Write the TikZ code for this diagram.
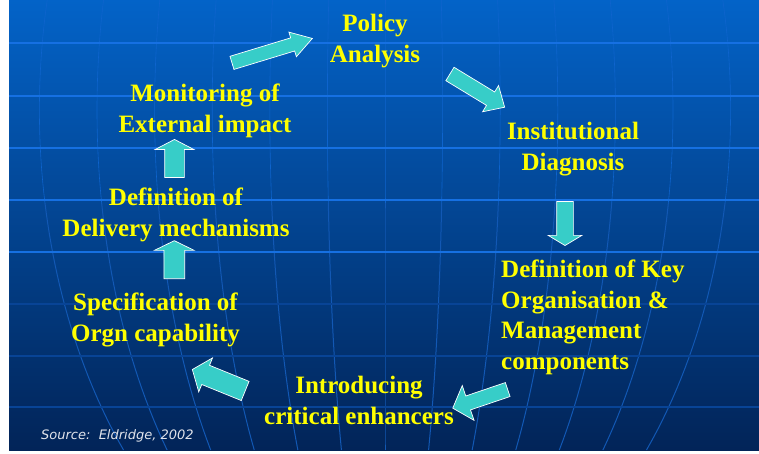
\documentclass[tikz,border=0pt]{standalone}
\usepackage{fontspec}
\setmainfont{Liberation Serif}
\newfontfamily\srcfont{DejaVu Sans}
\usetikzlibrary{shapes.arrows}
\definecolor{bgtop}{RGB}{3,99,200}
\definecolor{bgbot}{RGB}{2,36,88}
\definecolor{gridhi}{RGB}{22,112,226}
\definecolor{gridlo}{RGB}{8,68,150}
\definecolor{meridlo}{RGB}{18,88,180}
\definecolor{meridhi}{RGB}{14,100,205}
\definecolor{stageyellow}{RGB}{255,255,0}
\definecolor{arrowcyan}{RGB}{55,205,200}
\definecolor{srcgrey}{RGB}{225,228,235}
\begin{document}
\begin{tikzpicture}[x=1pt,y=1pt,
    stagetext/.style={text=stageyellow, font=\bfseries\fontsize{25}{30.5}\selectfont,
        inner sep=0pt, align=center, anchor=north},
    cyclearrow/.style={single arrow, draw=white, line width=0.7pt, fill=arrowcyan,
        inner xsep=0pt, minimum height=#1},
    parallel/.style={line width=1.6pt, gridhi},
    parallellow/.style={line width=1.2pt, gridlo}]

    \useasboundingbox (0,0) rectangle (759,453);
    \fill[white] (0,0) rectangle (759,453);
    \shade[top color=bgtop, bottom color=bgbot] (9,3) rectangle (759,453);

    \begin{scope}
        \clip (9,3) rectangle (759,453);
        \foreach \k in {-6,...,6}{
            \draw[meridhi, line width=0.6pt] plot[domain=250:453, samples=25, variable=\t]
                ({385+57.6*\k*sqrt(1-((343-\t)/520)^2)}, \t);
            \draw[meridlo, line width=1pt] plot[domain=3:250, samples=25, variable=\t]
                ({385+57.6*\k*sqrt(1-((343-\t)/520)^2)}, \t);
        }
        \foreach \y in {43,96,148,200,252}
            \draw[parallel] (9,453-\y) -- (759,453-\y);
        \foreach \y in {304,356,407}
            \draw[parallellow] (9,453-\y) -- (759,453-\y);
    \end{scope}

    \node[stagetext] (policy) at (375,439) {Policy\\Analysis};
    \node[stagetext] (diagnosis) at (573,331) {Institutional\\Diagnosis};
    \node[stagetext, align=left, anchor=north west] (keycomp) at (501,193)
        {Definition of Key\\Organisation \&\\Management\\components};
    \node[stagetext] (enhancers) at (359,77) {Introducing\\critical enhancers};
    \node[stagetext] (capability) at (155.5,160) {Specification of\\Orgn capability};
    \node[stagetext] (delivery) at (176,265) {Definition of\\Delivery mechanisms};
    \node[stagetext] (monitoring) at (205,369) {Monitoring of\\External impact};

    \node[cyclearrow=84, inner ysep=6.5, single arrow head extend=6,
        single arrow tip angle=64, rotate=16.9] (toPolicy) at (266.9,400.75) {};
    \node[cyclearrow=64, inner ysep=7.5, single arrow head extend=7.5,
        single arrow tip angle=86, rotate=-31.3] (toDiagnosis) at (473.7,364.6) {};
    \node[cyclearrow=44, inner ysep=8, single arrow head extend=8.5,
        single arrow tip angle=118, rotate=-90] (toKeycomp) at (565,232) {};
    \node[cyclearrow=58, inner ysep=7, single arrow head extend=11,
        single arrow tip angle=97, rotate=198.7] (toEnhancers) at (483.3,55.2) {};
    \node[cyclearrow=57, inner ysep=10, single arrow head extend=8,
        single arrow tip angle=104, rotate=157.9] (toCapability) at (222.5,71.25) {};
    \node[cyclearrow=38, inner ysep=10, single arrow head extend=9.5,
        single arrow tip angle=128, rotate=90] (toDelivery) at (174.3,190.8) {};
    \node[cyclearrow=38, inner ysep=9.5, single arrow head extend=9.5,
        single arrow tip angle=125, rotate=90] (toMonitoring) at (174.5,292) {};

    \node[anchor=base west, inner sep=0pt, text=srcgrey, font=\srcfont\itshape\fontsize{13}{15}\selectfont]
        (source) at (41,13.5) {Source:\ \ Eldridge, 2002};
\end{tikzpicture}
\end{document}
